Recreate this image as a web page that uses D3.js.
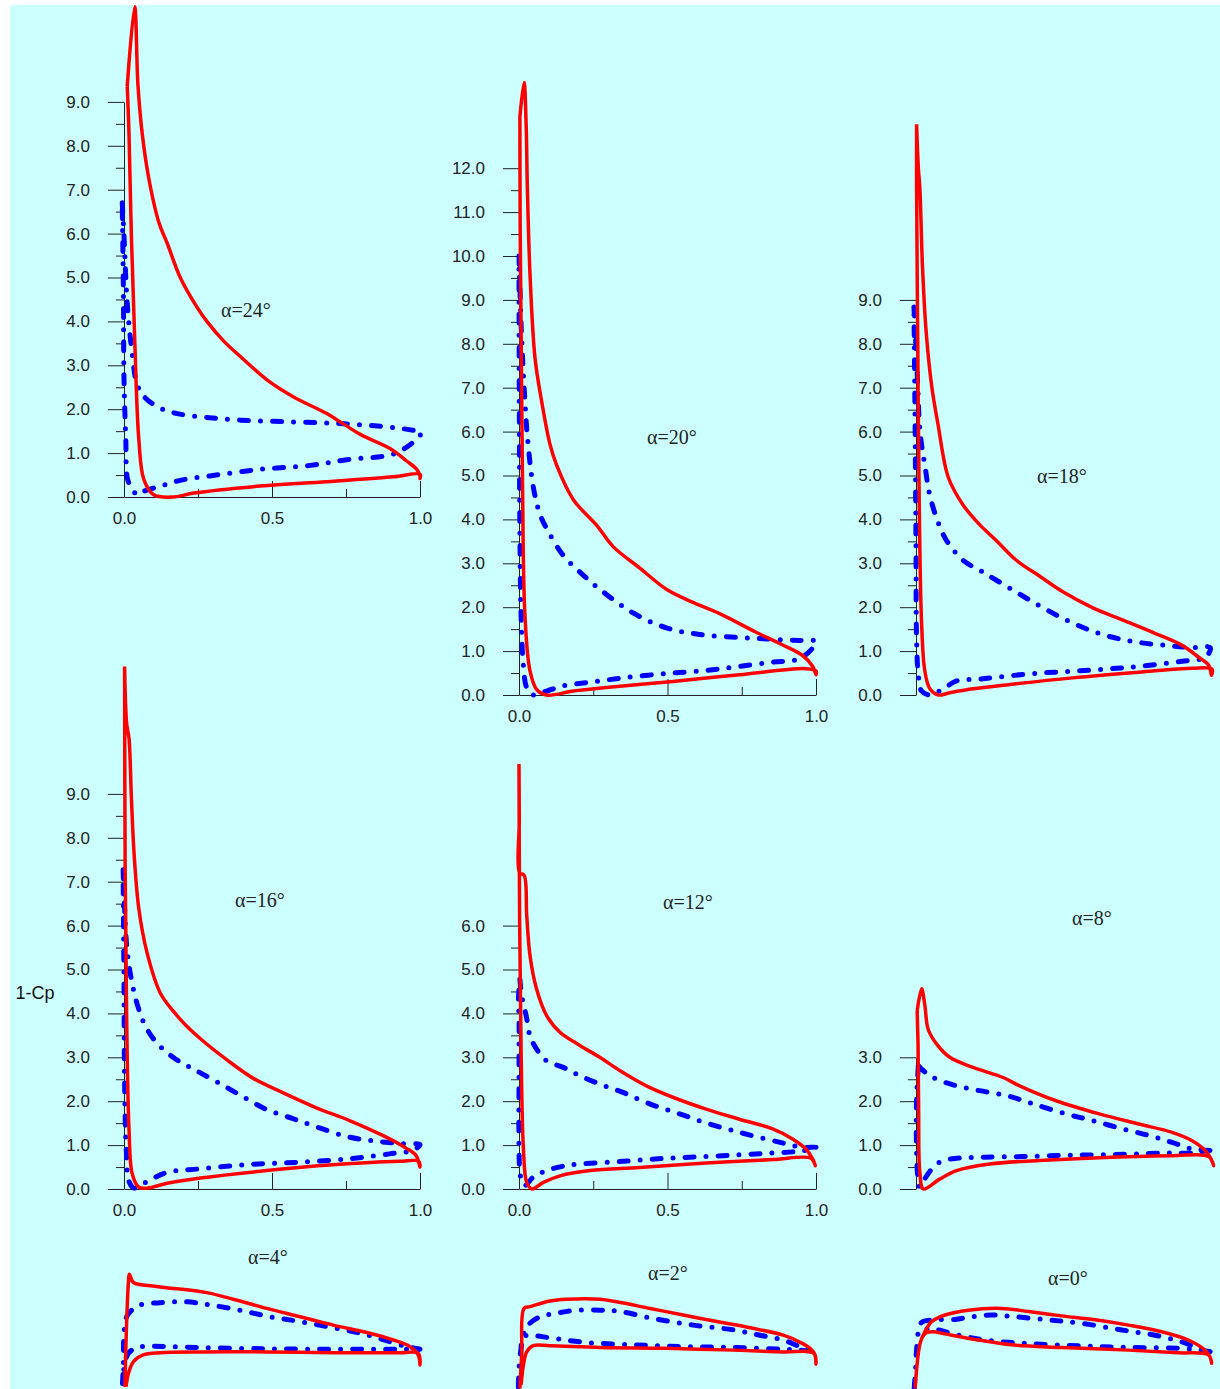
<!DOCTYPE html>
<html>
<head>
<meta charset="utf-8">
<script src="https://cdn.jsdelivr.net/npm/d3@7"></script>
<style>
  body { margin: 0; background: #fff; }
  svg { display: block; }
</style>
</head>
<body>
<svg id="chart"></svg>
<script>
// 1-Cp vs x/c, red = solid curve, blue = dash-dot curve (one closed loop each)
const red24 = [[0.011,9.36],[0.036,11.17],[0.047,9.4],[0.062,8.25],[0.084,7.25],[0.118,6.25],[0.146,5.78],[0.19,5.0],[0.247,4.32],[0.28,4.0],[0.337,3.55],[0.393,3.2],[0.483,2.67],[0.573,2.28],[0.685,1.9],[0.742,1.66],[0.8,1.42],[0.9,1.1],[0.955,0.82],[0.989,0.63],[1.0,0.48],[1.0,0.42],
  [1.0,0.52],[0.91,0.46],[0.685,0.35],[0.46,0.25],[0.236,0.09],[0.169,0.0],[0.10,0.05],[0.067,0.4],[0.05,1.32],[0.036,3.63],[0.025,5.94],[0.017,8.25],[0.011,9.36]];
const blue24 = [[-0.006,6.7],[0.0,5.94],[0.011,4.4],[0.028,3.25],[0.045,2.55],[0.073,2.25],[0.124,2.02],[0.18,1.9],[0.27,1.82],[0.393,1.75],[0.573,1.71],[0.742,1.67],[0.9,1.59],[0.977,1.52],[1.005,1.48],
  [0.977,1.25],[0.91,0.98],[0.753,0.85],[0.63,0.72],[0.46,0.63],[0.29,0.48],[0.19,0.38],[0.124,0.25],[0.067,0.13],[0.045,0.05],[0.022,0.25],[0.011,0.44],[0.006,1.32],[0.0,2.7],[-0.002,4.7],[-0.006,6.7]];

const red20 = [[0.003,13.17],[0.017,13.95],[0.024,13.0],[0.028,11.6],[0.037,9.6],[0.054,7.67],[0.076,6.7],[0.104,5.72],[0.127,5.23],[0.183,4.45],[0.261,3.87],[0.317,3.38],[0.407,2.89],[0.496,2.41],[0.586,2.11],[0.686,1.82],[0.798,1.43],[0.888,1.14],[0.955,0.9],[0.989,0.65],[1.0,0.46],
  [1.0,0.55],[0.966,0.6],[0.742,0.46],[0.518,0.31],[0.294,0.17],[0.183,0.09],[0.093,0.0],[0.06,0.12],[0.037,0.55],[0.02,1.82],[0.012,4.74],[0.008,7.67],[0.004,10.6],[0.003,13.17]];
const blue20 = [[0.0,10.0],[0.006,8.64],[0.012,7.67],[0.02,6.69],[0.028,5.91],[0.048,4.74],[0.071,4.11],[0.099,3.72],[0.149,3.18],[0.205,2.8],[0.272,2.41],[0.384,1.87],[0.496,1.53],[0.608,1.38],[0.742,1.31],[0.854,1.27],[0.944,1.24],[1.0,1.22],
  [0.978,0.99],[0.933,0.8],[0.854,0.75],[0.742,0.65],[0.63,0.56],[0.496,0.49],[0.35,0.39],[0.239,0.29],[0.149,0.21],[0.093,0.09],[0.048,0.0],[0.026,0.17],[0.015,0.65],[0.007,1.82],[0.003,3.77],[0.001,6.69],[0.0,10.0]];

const red18 = [[0.002,13.0],[0.008,12.0],[0.013,11.55],[0.022,9.75],[0.034,8.3],[0.053,7.04],[0.075,6.14],[0.109,4.96],[0.159,4.33],[0.215,3.88],[0.271,3.52],[0.339,3.07],[0.417,2.71],[0.496,2.35],[0.596,1.99],[0.697,1.71],[0.809,1.4],[0.899,1.13],[0.955,0.86],[0.989,0.68],[0.998,0.45],
  [1.0,0.59],[0.933,0.61],[0.753,0.52],[0.529,0.39],[0.305,0.23],[0.193,0.14],[0.114,0.05],[0.075,0.0],[0.047,0.14],[0.03,0.54],[0.019,1.62],[0.011,4.33],[0.006,7.94],[0.002,11.55],[0.002,13.0]];
const blue18 = [[-0.007,8.84],[0.0,7.94],[0.006,7.04],[0.011,6.23],[0.019,5.69],[0.03,5.23],[0.045,4.6],[0.07,4.02],[0.103,3.52],[0.159,3.07],[0.226,2.8],[0.305,2.48],[0.395,2.12],[0.507,1.71],[0.619,1.4],[0.731,1.22],[0.843,1.13],[0.933,1.08],[0.994,1.08],
  [0.978,0.86],[0.899,0.77],[0.753,0.65],[0.641,0.59],[0.529,0.54],[0.417,0.5],[0.305,0.43],[0.215,0.36],[0.137,0.32],[0.092,0.14],[0.047,0.0],[0.019,0.09],[0.008,0.45],[0.002,1.26],[0.0,3.43],[-0.003,6.14],[-0.007,8.84]];

const red16 = [[0.002,11.9],[0.009,10.6],[0.017,10.26],[0.025,8.91],[0.034,7.65],[0.05,6.39],[0.078,5.38],[0.123,4.46],[0.168,4.04],[0.213,3.7],[0.269,3.36],[0.348,2.94],[0.437,2.52],[0.538,2.19],[0.65,1.85],[0.762,1.56],[0.874,1.22],[0.953,0.93],[0.987,0.76],[1.0,0.5],
  [0.996,0.63],[0.93,0.63],[0.706,0.55],[0.482,0.42],[0.258,0.25],[0.146,0.13],[0.078,0.02],[0.05,0.04],[0.028,0.34],[0.017,1.35],[0.009,3.87],[0.004,7.23],[0.002,11.9]];
const blue16 = [[-0.003,7.27],[0.002,6.39],[0.009,5.55],[0.022,4.88],[0.045,4.2],[0.073,3.7],[0.112,3.32],[0.168,2.99],[0.235,2.73],[0.314,2.44],[0.392,2.14],[0.482,1.81],[0.572,1.6],[0.661,1.39],[0.762,1.18],[0.852,1.09],[0.942,1.03],[1.0,1.01],
  [0.975,0.88],[0.897,0.8],[0.762,0.69],[0.594,0.61],[0.426,0.56],[0.258,0.46],[0.146,0.38],[0.078,0.17],[0.034,0.02],[0.017,0.17],[0.008,0.84],[0.002,2.44],[0.0,4.71],[-0.003,7.27]];

const red12 = [[0.0,9.68],[0.001,8.4],[0.002,7.2],[0.017,7.15],[0.026,6.23],[0.037,5.32],[0.059,4.56],[0.093,3.95],[0.138,3.57],[0.205,3.27],[0.272,3.0],[0.339,2.7],[0.429,2.35],[0.518,2.09],[0.63,1.82],[0.742,1.59],[0.854,1.37],[0.921,1.14],[0.966,0.91],[0.989,0.68],[0.998,0.53],
  [0.983,0.7],[0.854,0.67],[0.63,0.59],[0.406,0.49],[0.239,0.42],[0.138,0.3],[0.082,0.15],[0.043,0.0],[0.026,0.15],[0.015,0.91],[0.007,3.19],[0.002,6.23],[0.0,9.68]];
const blue12 = [[0.003,4.78],[0.009,4.4],[0.024,3.95],[0.037,3.49],[0.059,3.19],[0.093,2.92],[0.149,2.77],[0.205,2.58],[0.272,2.39],[0.35,2.2],[0.44,1.94],[0.541,1.71],[0.642,1.48],[0.742,1.29],[0.832,1.14],[0.899,1.03],[0.955,0.95],[1.0,0.95],
  [0.955,0.87],[0.854,0.82],[0.742,0.78],[0.63,0.74],[0.496,0.7],[0.35,0.63],[0.205,0.57],[0.149,0.52],[0.093,0.42],[0.048,0.27],[0.02,0.08],[0.009,0.19],[0.003,0.38],[0.0,0.99],[0.0,2.43],[0.0,3.95],[-0.002,4.29],[0.003,4.78]];

const red8 = [[0.004,4.06],[0.019,4.56],[0.03,4.18],[0.041,3.64],[0.07,3.3],[0.114,3.0],[0.193,2.77],[0.294,2.54],[0.35,2.35],[0.473,2.01],[0.619,1.71],[0.753,1.48],[0.865,1.29],[0.933,1.1],[0.972,0.91],[0.994,0.72],[1.006,0.53],
  [0.989,0.74],[0.865,0.76],[0.641,0.72],[0.417,0.65],[0.249,0.57],[0.137,0.42],[0.081,0.23],[0.025,0.0],[0.013,0.38],[0.009,1.75],[0.007,3.27],[0.004,4.06]];
const blue8 = [[0.008,2.81],[0.019,2.73],[0.047,2.58],[0.081,2.47],[0.137,2.35],[0.215,2.24],[0.305,2.13],[0.395,1.94],[0.507,1.71],[0.596,1.56],[0.697,1.37],[0.787,1.22],[0.865,1.06],[0.933,0.91],[1.0,0.87],
  [0.944,0.82],[0.843,0.82],[0.709,0.79],[0.529,0.77],[0.361,0.74],[0.215,0.72],[0.114,0.68],[0.07,0.57],[0.036,0.3],[0.013,0.04],[0.008,0.15],[0.002,0.84],[0.002,2.05],[0.008,2.81]];

const red4 = [[0.003,0.0],[0.008,1.3],[0.015,2.4],[0.018,2.57],[0.032,2.38],[0.11,2.29],[0.279,2.15],[0.369,2.0],[0.482,1.79],[0.595,1.6],[0.707,1.41],[0.82,1.24],[0.91,1.07],[0.966,0.92],[0.994,0.73],[1.0,0.5],
  [0.994,0.77],[0.932,0.78],[0.707,0.78],[0.482,0.8],[0.257,0.8],[0.122,0.78],[0.065,0.73],[0.032,0.58],[0.015,0.31],[0.007,0.01]];
const blue4 = [[-0.005,0.08],[-0.002,0.54],[0.0,1.22],[0.009,1.6],[0.026,1.75],[0.054,1.87],[0.122,1.92],[0.212,1.94],[0.29,1.87],[0.392,1.75],[0.493,1.6],[0.595,1.49],[0.73,1.32],[0.82,1.19],[0.899,1.03],[0.955,0.92],[1.0,0.86],
  [0.955,0.86],[0.876,0.86],[0.707,0.86],[0.482,0.87],[0.257,0.9],[0.144,0.92],[0.077,0.93],[0.043,0.9],[0.015,0.77],[0.003,0.54],[-0.002,0.31],[-0.005,0.08]];

const red2 = [[0.003,-0.03],[0.009,0.73],[0.017,1.79],[0.037,1.83],[0.104,1.96],[0.16,2.0],[0.273,2.0],[0.329,1.94],[0.441,1.79],[0.553,1.64],[0.666,1.49],[0.778,1.35],[0.89,1.18],[0.946,1.02],[0.98,0.88],[0.997,0.73],[1.0,0.52],
  [0.992,0.77],[0.89,0.8],[0.722,0.84],[0.497,0.88],[0.273,0.9],[0.104,0.94],[0.048,0.94],[0.026,0.8],[0.015,0.5],[0.007,0.05]];
const blue2 = [[-0.002,0.0],[0.001,0.5],[0.009,0.96],[0.026,1.37],[0.071,1.6],[0.127,1.68],[0.194,1.75],[0.273,1.75],[0.34,1.72],[0.452,1.56],[0.587,1.41],[0.722,1.3],[0.811,1.18],[0.89,1.07],[0.946,0.92],[0.997,0.82],
  [0.946,0.84],[0.89,0.86],[0.722,0.9],[0.553,0.92],[0.385,0.96],[0.216,1.02],[0.104,1.12],[0.048,1.17],[0.015,1.15],[0.006,0.8],[0.001,0.27]];

const red0 = [[-0.003,-0.03],[0.014,1.0],[0.03,1.26],[0.053,1.49],[0.098,1.64],[0.177,1.75],[0.289,1.79],[0.38,1.72],[0.492,1.62],[0.605,1.53],[0.718,1.41],[0.83,1.26],[0.92,1.07],[0.976,0.84],[0.993,0.69],[0.999,0.54],
  [0.988,0.73],[0.886,0.78],[0.718,0.84],[0.492,0.9],[0.323,0.96],[0.211,1.07],[0.098,1.21],[0.059,1.26],[0.036,1.24],[0.019,1.11]];
const blue0 = [[-0.006,-0.03],[-0.001,0.46],[0.002,0.84],[0.008,1.26],[0.019,1.47],[0.064,1.53],[0.132,1.54],[0.188,1.6],[0.256,1.64],[0.334,1.6],[0.447,1.53],[0.56,1.45],[0.695,1.3],[0.807,1.18],[0.897,1.03],[0.954,0.88],[0.999,0.8],
  [0.959,0.84],[0.897,0.88],[0.718,0.9],[0.548,0.94],[0.38,0.99],[0.245,1.06],[0.144,1.18],[0.075,1.3],[0.042,1.34],[0.019,1.22],[0.008,1.15]];

const xTicksMajor = [0, 0.5, 1];
const xTicksMinor = [0.25, 0.75];

const unitPx = 43.9;
const panels = [
  { a: "24", x0: 124, x1: 420, y0: 497, yMax: 9, yAxis: true, xAxis: true, lx: 246, ly: 310, red: red24, blue: blue24 },
  { a: "20", x0: 519, x1: 816, y0: 695, yMax: 12, yAxis: true, xAxis: true, lx: 672, ly: 437, red: red20, blue: blue20 },
  { a: "18", x0: 916, x1: 1212, y0: 695, yMax: 9, yAxis: true, xAxis: false, lx: 1062, ly: 476, red: red18, blue: blue18 },
  { a: "16", x0: 124, x1: 420, y0: 1189, yMax: 9, yAxis: true, xAxis: true, lx: 260, ly: 900, red: red16, blue: blue16 },
  { a: "12", x0: 519, x1: 816, y0: 1189, yMax: 6, yAxis: true, xAxis: true, lx: 688, ly: 902, red: red12, blue: blue12 },
  { a: "8", x0: 916, x1: 1212, y0: 1189, yMax: 3, yAxis: true, xAxis: false, lx: 1092, ly: 918, red: red8, blue: blue8 },
  { a: "4", x0: 124, x1: 420, y0: 1387, yMax: 3, yAxis: false, xAxis: false, lx: 268, ly: 1257, red: red4, blue: blue4 },
  { a: "2", x0: 519, x1: 816, y0: 1387, yMax: 3, yAxis: false, xAxis: false, lx: 668, ly: 1273, red: red2, blue: blue2 },
  { a: "0", x0: 916, x1: 1212, y0: 1387, yMax: 3, yAxis: false, xAxis: false, lx: 1068, ly: 1278, red: red0, blue: blue0 },
];

const svg = d3.select("#chart").attr("width", 1220).attr("height", 1389);

svg.append("rect")
  .attr("x", 10).attr("y", 5)
  .attr("width", 1210).attr("height", 1384)
  .attr("fill", "#ccffff");

const sansFont = "'Liberation Sans', Arial, sans-serif";
const serifFont = "'Liberation Serif', 'Times New Roman', serif";

panels.forEach((p) => {
  const x = d3.scaleLinear().domain([0, 1]).range([p.x0, p.x1]);
  const y = d3.scaleLinear().domain([0, p.yMax]).range([p.y0, p.y0 - p.yMax * unitPx]);
  const g = svg.append("g");

  if (p.yAxis) {
    // minor ticks every 0.5
    g.append("g")
      .attr("transform", `translate(${p.x0},0)`)
      .attr("color", "#222")
      .call(d3.axisLeft(y).tickValues(d3.range(0.5, p.yMax, 1)).tickSize(8).tickFormat(""))
      .call((a) => a.select(".domain").remove());
    g.append("g")
      .attr("transform", `translate(${p.x0},0)`)
      .attr("color", "#222")
      .call(d3.axisLeft(y)
        .tickValues(d3.range(0, p.yMax + 0.01, 1))
        .tickSize(16).tickSizeOuter(0).tickPadding(18)
        .tickFormat(d3.format(".1f")))
      .attr("font-family", sansFont)
      .attr("font-size", 17);
  }

  if (p.xAxis) {
    g.append("g")
      .attr("transform", `translate(0,${p.y0})`)
      .attr("color", "#222")
      .call(d3.axisBottom(x).tickValues(xTicksMinor).tickSize(-8).tickFormat(""))
      .call((a) => a.select(".domain").remove());
    g.append("g")
      .attr("transform", `translate(0,${p.y0})`)
      .attr("color", "#222")
      .call(d3.axisBottom(x)
        .tickValues(xTicksMajor)
        .tickSize(-16).tickSizeOuter(0).tickPadding(15)
        .tickFormat(d3.format(".1f")))
      .attr("font-family", sansFont)
      .attr("font-size", 17);
  }

  const line = d3.line()
    .x((d) => x(d[0]))
    .y((d) => y(d[1]))
    .curve(d3.curveCatmullRom.alpha(0.5));

  g.append("path")
    .datum(p.blue)
    .attr("d", line)
    .attr("fill", "none")
    .attr("stroke", "#0000ff")
    .attr("stroke-width", 5)
    .attr("stroke-linecap", "round")
    .attr("stroke-dasharray", "9 12 0 12");

  g.append("path")
    .datum(p.red)
    .attr("d", line)
    .attr("fill", "none")
    .attr("stroke", "#ff0000")
    .attr("stroke-width", 3.5)
    .attr("stroke-linejoin", "round");

  g.append("text")
    .attr("x", p.lx)
    .attr("y", p.ly)
    .attr("dy", "0.35em")
    .attr("text-anchor", "middle")
    .attr("font-family", serifFont)
    .attr("font-size", 20)
    .attr("fill", "#222")
    .text(`α=${p.a}°`);
});

svg.append("text")
  .attr("x", 35)
  .attr("y", 993)
  .attr("dy", "0.35em")
  .attr("text-anchor", "middle")
  .attr("font-family", sansFont)
  .attr("font-size", 18)
  .attr("fill", "#111")
  .text("1-Cp");
</script>
</body>
</html>
